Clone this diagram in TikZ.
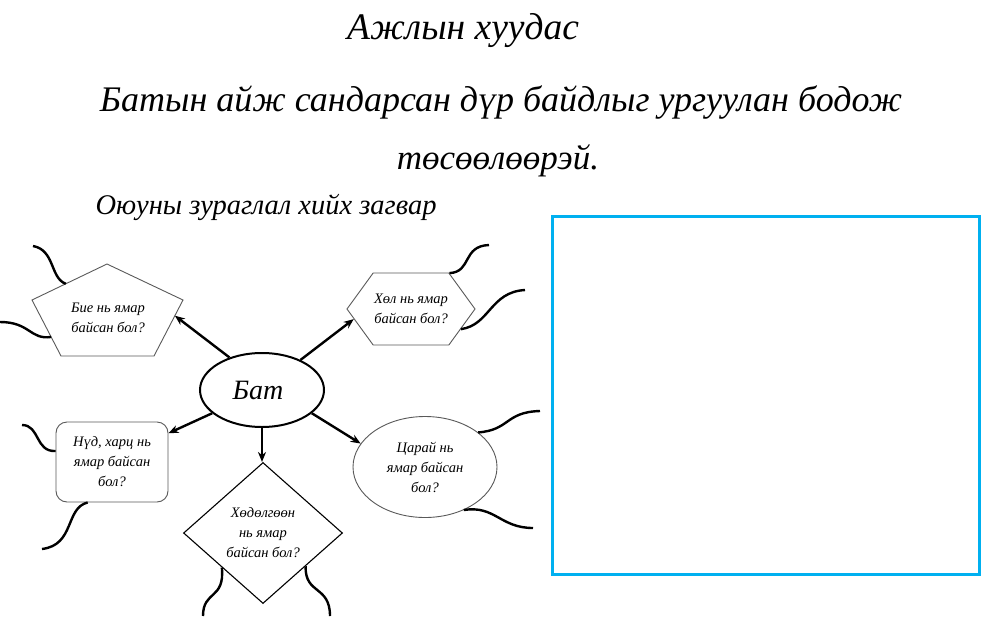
\documentclass[tikz,border=0pt]{standalone}
\usepackage{fontspec}
\setmainfont{Liberation Serif}
\usetikzlibrary{arrows.meta,shapes.geometric,shapes.symbols,calc}
\definecolor{boxblue}{RGB}{0,176,240}
\begin{document}
\begin{tikzpicture}[x=1pt,y=-1pt,
  shapeline/.style={draw=black!65, line width=0.9pt},
  qtext/.style={inner sep=0pt, align=center, font=\itshape\fontsize{14.5}{20}\selectfont},
  qshape/.style={shapeline, fill=white, qtext},
  link/.style={line width=2.4pt, -{Stealth[length=10pt,width=8pt]}},
  wave/.style={line width=2.4pt},
  bigtext/.style={inner sep=0pt, anchor=base, font=\itshape\fontsize{#1}{#1}\selectfont},
]
\useasboundingbox (0,0) rectangle (993,616);

% titles
\node[bigtext=37.5] (title) at (463,39) {Ажлын хуудас};
\node[bigtext=36] (sub1) at (501,111) {Батын айж сандарсан дүр байдлыг ургуулан бодож};
\node[bigtext=35] (sub2) at (498,169) {төсөөлөөрэй.};
\node[bigtext=28.5] (mm) at (266,214) {Оюуны зураглал хийх загвар};

% answer box
\node[draw=boxblue, line width=3pt, minimum width=427pt, minimum height=358pt, inner sep=0pt] (box) at (765.5,395) {};

% centre
\node[draw, ellipse, line width=2pt, minimum width=124pt, minimum height=74pt, inner sep=0pt,
      font=\itshape\fontsize{28}{30}\selectfont] (bat) at (262,390) {\hspace*{-8pt}Бат};

% pentagon
\coordinate (pT) at (107,264);
\coordinate (pUR) at (183,300);
\coordinate (pBR) at (154,356);
\coordinate (pBL) at (61,356);
\coordinate (pUL) at (32,300);
\draw[shapeline] (pT)--(pUR)--(pBR)--(pBL)--(pUL)--cycle;
\node[qtext] (bie) at (108,318) {Бие нь ямар\\байсан бол?};
\coordinate (bieIn) at ($(pUR)!0.28!(pBR)$);
\coordinate (bieW1) at ($(pT)!0.55!(pUL)$);
\coordinate (bieW2) at ($(pUL)!0.66!(pBL)$);

% hexagon
\node[qshape, signal, signal to=east and west, signal pointer angle=108,
      minimum width=128pt, minimum height=72pt] (hol) at (411,309) {Хөл нь ямар\\байсан бол?};

% rounded rectangle
\node[qshape, rounded corners=11pt, minimum width=112pt, minimum height=80pt] (nud) at (112,462) {Нүд, харц нь\\ямар байсан\\бол?};

% diamond
\node[draw=black, line width=1.1pt, fill=white, qtext, diamond, shape aspect=1.13, minimum width=159pt, minimum height=141pt] (hod) at (263,533) {Хөдөлгөөн\\нь ямар\\байсан бол?};

% ellipse
\node[qshape, ellipse, minimum width=144pt, minimum height=101pt] (tsar) at (425,467) {Царай нь\\ямар байсан\\бол?};

% arrows
\draw[link] (bat.135) -- (bieIn);
\draw[link] (bat.38) -- (hol.190);
\draw[link] (bat.205) -- (nud.27);
\draw[link, line width=1.8pt] (bat.south) -- (bat.south |- hod.north);
\draw[link] (bat.-25) -- (tsar.160);

% waves
\draw[wave] (bieW1) .. controls (50,278) and (55,250) .. (33,246);
\draw[wave] (bieW2) .. controls (30,340) and (30,322) .. (0,322);
\draw[wave] (hol.43) .. controls (472,272) and (462,246) .. (489,245);
\draw[wave] (hol.-22) .. controls (490,325) and (490,292) .. (525,290);
\draw[wave] (nud.169) .. controls (35,452) and (40,425) .. (22,425);
\draw[wave] (nud.239) .. controls (65,508) and (75,545) .. (42,549);
\draw[wave] (hod.220) .. controls (225,600) and (203,590) .. (203,616);
\draw[wave] (hod.-38) .. controls (305,595) and (330,585) .. (330,616);
\draw[wave] (tsar.33) .. controls (510,430) and (505,412) .. (540,411);
\draw[wave] (tsar.-48) .. controls (495,505) and (500,528) .. (533,528);
\end{tikzpicture}
\end{document}
